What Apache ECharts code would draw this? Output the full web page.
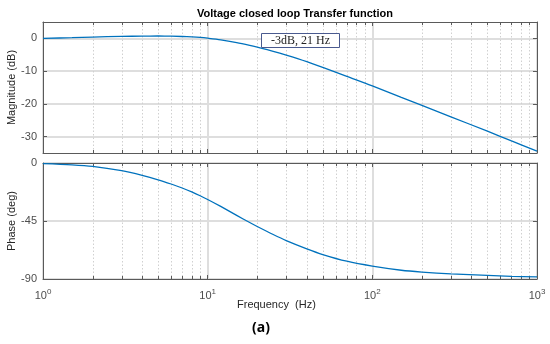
<!DOCTYPE html>
<html><head><meta charset="utf-8">
<script src="https://cdn.jsdelivr.net/npm/echarts@6/dist/echarts.min.js"></script>
<style>html,body{margin:0;padding:0;background:#fff}#c{width:550px;height:344px}</style>
</head><body><div id="c"></div>
<script>
const freqs = [1, 1.5, 2, 3, 4, 5, 6, 7, 8, 9, 10, 12, 15, 18, 20, 25, 30, 40, 50, 70, 100, 150, 200, 300, 500, 700, 1000];
const magnitudeDb = [0, 0.2, 0.4, 0.6, 0.7, 0.72, 0.68, 0.58, 0.45, 0.28, 0.05, -0.45, -1.3, -2.15, -2.7, -3.95, -5.1, -7.1, -8.85, -11.6, -14.5, -18, -20.45, -23.95, -28.35, -31.3, -34.4];
const phaseDeg = [-0.5, -1.4, -2.6, -6, -9.6, -13, -16.3, -19.4, -22.4, -25.4, -28.3, -33.7, -40.6, -46.2, -49.3, -55.5, -60.2, -66.6, -71, -76.2, -80, -83.2, -84.6, -86, -87.2, -87.9, -88.4];
const minorFreqs = [2,3,4,5,6,7,8,9,20,30,40,50,60,70,80,90,200,300,400,500,600,700,800,900];
const magTicks = [-30, -20, -10, 0];
const phaseTicks = [-90, -45, 0];
const titleText = 'Voltage closed loop Transfer function';
const annotText = '-3dB, 21 Hz';

const chart = echarts.init(document.getElementById('c'), null, {renderer: 'canvas'});
const axisColor = '#5a5a5a';
const labelColor = '#4d4d4d';
const majorGrid = '#dedede';
const FONT = 'Liberation Sans, Arial, sans-serif';

function xAx(gi, bottom, showLabel) {
  return {
    type: 'log', logBase: 10, min: 1, max: 1000, gridIndex: gi,
    position: bottom ? 'bottom' : 'top',
    axisLine: {show: true, onZero: false, lineStyle: {color: axisColor, width: 1}},
    axisTick: {show: true, inside: true, length: 4, lineStyle: {color: axisColor}},
    minorTick: {show: false},
    splitLine: {show: bottom, lineStyle: {color: majorGrid, width: 2}},
    axisLabel: {
      show: showLabel, margin: 9, color: labelColor, fontFamily: FONT,
      formatter: v => '{b|10}{s|' + Math.round(Math.log10(v)) + '}',
      rich: {b: {fontSize: 11, color: labelColor, fontFamily: FONT}, s: {fontSize: 8, color: labelColor, fontFamily: FONT, verticalAlign: 'top', padding: [0,0,8,0]}}
    }
  };
}
function yAx(gi, left, min, max, ticks) {
  return {
    type: 'value', gridIndex: gi, min: min, max: max,
    position: left ? 'left' : 'right',
    axisLine: {show: true, onZero: false, lineStyle: {color: axisColor, width: 1}},
    axisTick: {show: true, inside: true, length: 4, customValues: ticks, lineStyle: {color: axisColor}},
    splitLine: {show: left, lineStyle: {color: majorGrid, width: 2}},
    axisLabel: {show: left, customValues: ticks, color: labelColor, fontSize: 11, fontFamily: FONT, margin: 6}
  };
}

function minorRender(params, api) {
  const cs = params.coordSys;
  const x = Math.round(api.coord([api.value(0), api.value(1)])[0]) + 0.5;
  return {
    type: 'group',
    children: [
      {type: 'line', shape: {x1: x, y1: cs.y, x2: x, y2: cs.y + cs.height}, style: {stroke: '#d0d0d0', lineWidth: 1, lineDash: [1.5, 2]}},
      {type: 'line', shape: {x1: x, y1: cs.y, x2: x, y2: cs.y + 3}, style: {stroke: axisColor, lineWidth: 1}},
      {type: 'line', shape: {x1: x, y1: cs.y + cs.height - 3, x2: x, y2: cs.y + cs.height}, style: {stroke: axisColor, lineWidth: 1}}
    ]
  };
}

const magData = freqs.map((f, i) => [f, magnitudeDb[i]]);
const phData = freqs.map((f, i) => [f, phaseDeg[i]]);
const yName = {nameLocation: 'middle', nameGap: 25.5, nameMoveOverlap: false, nameTextStyle: {color: '#262626', fontSize: 11, fontFamily: FONT}};

chart.setOption({
  animation: false,
  backgroundColor: '#fff',
  title: {text: titleText, left: 290, textAlign: 'center', top: 3, textStyle: {fontSize: 11, fontWeight: 'bold', color: '#000', fontFamily: FONT}},
  grid: [
    {left: 43, top: 22, width: 494, height: 131, outerBoundsMode: 'none', containLabel: false},
    {left: 43, top: 163, width: 494, height: 116, outerBoundsMode: 'none', containLabel: false}
  ],
  xAxis: [xAx(0, true, false), xAx(0, false, false), xAx(1, true, true), xAx(1, false, false)],
  yAxis: [
    Object.assign(yAx(0, true, -35, 5, magTicks), {name: 'Magnitude (dB)'}, yName),
    yAx(0, false, -35, 5, magTicks),
    Object.assign(yAx(1, true, -90, 0, phaseTicks), {interval: 45, name: 'Phase (deg)'}, yName),
    Object.assign(yAx(1, false, -90, 0, phaseTicks), {interval: 45})
  ],
  series: [
    {type: 'custom', xAxisIndex: 0, yAxisIndex: 0, renderItem: minorRender, data: minorFreqs.map(f => [f, 0]), silent: true, z: 1},
    {type: 'custom', xAxisIndex: 2, yAxisIndex: 2, renderItem: minorRender, data: minorFreqs.map(f => [f, -45]), silent: true, z: 1},
    {type: 'line', xAxisIndex: 0, yAxisIndex: 0, data: magData, smooth: 0.3, showSymbol: false, lineStyle: {color: '#0072BD', width: 1.3}, z: 5},
    {type: 'line', xAxisIndex: 2, yAxisIndex: 2, data: phData, smooth: 0.3, showSymbol: false, lineStyle: {color: '#0072BD', width: 1.3}, z: 5}
  ],
  graphic: [
    {type: 'group', left: 261, top: 33, z: 100, zlevel: 1, children: [
      {type: 'rect', z: 100, shape: {x: 0.5, y: 0.5, width: 78, height: 14}, style: {fill: '#ffffff', stroke: '#4a5a8f', lineWidth: 1}},
      {type: 'text', z: 101, x: 39.5, y: 8, style: {text: annotText, fill: '#222', font: '12px "Liberation Serif", "Times New Roman", serif', textAlign: 'center', textVerticalAlign: 'middle'}}
    ]},
    {type: 'text', left: 237, top: 299, style: {text: 'Frequency  (Hz)', fill: '#262626', font: '11px "Liberation Sans", Arial, sans-serif'}},
    {type: 'text', left: 252, top: 321, style: {text: '(a)', fill: '#000', font: 'bold 14px "Noto Sans", "DejaVu Sans", sans-serif'}}
  ]
});
</script>
</body></html>
